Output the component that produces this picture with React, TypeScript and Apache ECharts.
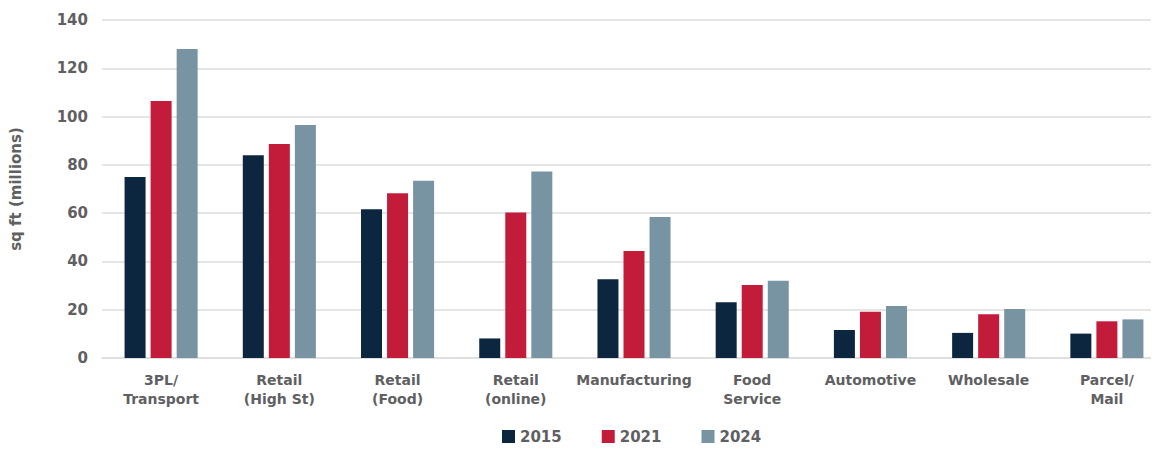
import React, { useEffect, useRef } from "react";
import * as echarts from "echarts";

const categories = [
  "3PL/\nTransport",
  "Retail\n(High St)",
  "Retail\n(Food)",
  "Retail\n(online)",
  "Manufacturing",
  "Food\nService",
  "Automotive",
  "Wholesale",
  "Parcel/\nMail",
];
const values2015 = [75, 84, 61.6, 8.1, 32.6, 23.1, 11.6, 10.4, 10.1];
const values2021 = [106.5, 88.6, 68.2, 60.3, 44.3, 30.2, 19.2, 18.1, 15.2];
const values2024 = [128, 96.5, 73.4, 77.2, 58.4, 32, 21.5, 20.3, 16];
const yTicks = { min: 0, max: 140, interval: 20 };

const FONT = "'DejaVu Sans', Verdana, sans-serif";
const TEXT = "#5f6062";

export default function App() {
  const ref = useRef<HTMLDivElement>(null);
  useEffect(() => {
    if (!ref.current) return;
    const chart = echarts.init(ref.current, undefined, { renderer: "svg" });
    const mk = (name: string, data: number[], color: string) => ({
      name,
      type: "bar",
      data,
      barWidth: 21,
      barGap: "24%",
      itemStyle: { color },
    });
    chart.setOption({
      animation: false,
      textStyle: { fontFamily: FONT },
      grid: { left: 99, right: 1, top: 20, bottom: 94 },
      legend: {
        bottom: 3,
        left: 497,
        itemWidth: 13,
        itemHeight: 13,
        itemGap: 40,
        icon: "rect",
        textStyle: { color: TEXT, fontSize: 15, fontWeight: "bold", fontFamily: FONT },
        data: ["2015", "2021", "2024"],
      },
      xAxis: {
        type: "category",
        data: categories,
        axisLine: { show: true, lineStyle: { color: "#dcdcdc", width: 1.5 } },
        axisTick: { show: false },
        axisLabel: {
          color: TEXT,
          fontSize: 14,
          fontWeight: "bold",
          lineHeight: 19,
          margin: 12,
          interval: 0,
          fontFamily: FONT,
        },
      },
      yAxis: {
        type: "value",
        min: yTicks.min,
        max: yTicks.max,
        interval: yTicks.interval,
        name: "sq ft (millions)",
        nameLocation: "middle",
        nameGap: 79,
        nameRotate: 90,
        nameTextStyle: { color: TEXT, fontSize: 15, fontWeight: "bold", fontFamily: FONT },
        axisLine: { show: false },
        axisTick: { show: false },
        axisLabel: { color: TEXT, fontSize: 15, fontWeight: "bold", margin: 14, fontFamily: FONT },
        splitLine: { lineStyle: { color: "#dcdcdc", width: 1.5 } },
      },
      series: [
        mk("2015", values2015, "#0c2640"),
        mk("2021", values2021, "#c21c3a"),
        mk("2024", values2024, "#7893a1"),
      ],
    });
    return () => chart.dispose();
  }, []);
  return (
    <div style={{ width: 1159, height: 452, margin: -8, overflow: "hidden", position: "relative" }}>
      <div ref={ref} style={{ width: 1167, height: 452 }} />
    </div>
  );
}
